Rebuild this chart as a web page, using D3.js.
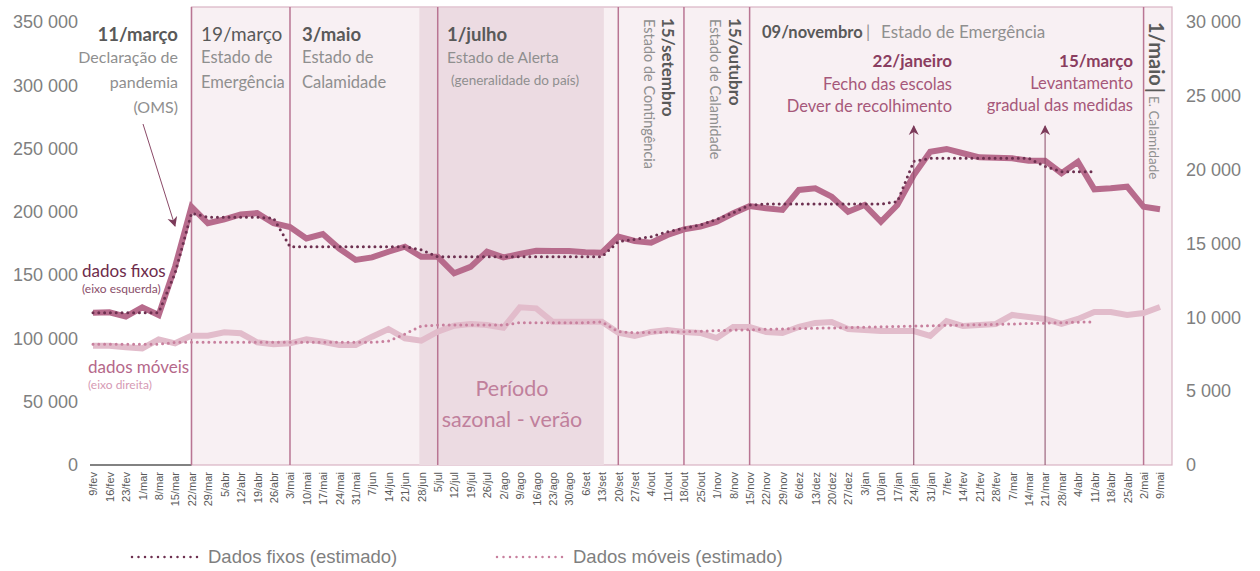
<!DOCTYPE html>
<html>
<head>
<meta charset="utf-8">
<script src="https://cdn.jsdelivr.net/npm/d3@7"></script>
<style>
  body { margin: 0; background: #fff; }
  svg text { font-family: "Liberation Sans", Arial, sans-serif; }
  .note { font-family: Lato, "Open Sans", sans-serif; }
</style>
</head>
<body>
<div id="chart"></div>
<script>
// svg area
var svgWidth = 1260;
var svgHeight = 571;

// weekly labels (9/fev/2020 .. 9/mai/2021)
var semanas = ["9/fev","16/fev","23/fev","1/mar","8/mar","15/mar","22/mar","29/mar","5/abr","12/abr",
  "19/abr","26/abr","3/mai","10/mai","17/mai","24/mai","31/mai","7/jun","14/jun","21/jun",
  "28/jun","5/jul","12/jul","19/jul","26/jul","2/ago","9/ago","16/ago","23/ago","30/ago",
  "6/set","13/set","20/set","27/set","4/out","11/out","18/out","25/out","1/nov","8/nov",
  "15/nov","22/nov","29/nov","6/dez","13/dez","20/dez","27/dez","3/jan","10/jan","17/jan",
  "24/jan","31/jan","7/fev","14/fev","21/fev","28/fev","7/mar","14/mar","21/mar","28/mar",
  "4/abr","11/abr","18/abr","25/abr","2/mai","9/mai"];

// dados fixos (eixo esquerdo)
var dadosFixos = [120300,120600,117200,124600,118500,156700,204000,191000,194000,198000,
  199000,191000,188000,179000,182500,171000,162000,164000,168500,172500,
  164500,164500,151500,156500,168500,164000,166700,169300,169000,169000,
  168000,167700,180400,177000,175600,181700,186200,188300,192200,198900,
  204600,202800,201500,217300,218600,212000,200100,205400,192200,205400,
  229000,247500,249700,246300,243100,242800,242300,240400,240400,230500,
  239600,217800,218600,219900,204000,202000];

// dados fixos estimados (termina em 11/abr)
var fixosEstimado = [120300,120300,120300,120300,120300,151700,199000,195700,195700,195700,
  195700,195000,172500,172500,172500,172500,172500,172500,172500,172500,
  170000,164500,164500,164500,164500,164500,164500,164500,164500,164500,
  164500,164500,176400,178300,180400,184300,187000,189600,194100,199300,
  205400,206200,206200,206200,206200,206200,206200,206200,206200,208000,
  240000,242300,242300,242300,242300,242300,242300,242300,236000,231700,
  231700,231700];

// dados móveis (eixo direito)
var dadosMoveis = [8080,8080,7970,7900,8510,8240,8760,8760,8990,8920,
  8310,8170,8240,8510,8350,8130,8130,8690,9210,8580,
  8420,9030,9430,9550,9480,9300,10680,10610,9700,9700,
  9700,9700,8960,8740,9010,9140,9010,8940,8600,9350,
  9350,9010,8940,9350,9620,9680,9210,9140,9070,9070,
  9070,8740,9750,9410,9480,9550,10160,10020,9890,9550,
  9890,10360,10360,10160,10290,10700];

// dados móveis estimados (termina em 11/abr)
var moveisEstimado = [8170,8170,8170,8170,8170,8310,8310,8310,8310,8310,
  8310,8310,8310,8310,8310,8310,8310,8310,8400,8870,
  9410,9480,9480,9480,9480,9480,9640,9640,9640,9640,
  9640,9700,9030,8960,8980,9000,9030,9060,9100,9130,
  9160,9190,9210,9240,9260,9280,9310,9330,9360,9380,
  9410,9430,9460,9480,9500,9530,9550,9580,9610,9640,
  9670,9700];

var ticksEsquerda = [0,50000,100000,150000,200000,250000,300000,350000];
var ticksDireita = [0,5000,10000,15000,20000,25000,30000];

// period boundaries (week labels)
var marcosPeriodo = ["22/mar","3/mai","5/jul","20/set","18/out","15/nov","2/mai"];
var veraoInicio = "28/jun";
var veraoFim = "13/set";

var fmt = function(d) { return d3.format(",")(d).replace(/,/g, " "); };

var svg = d3.select("#chart")
    .append("svg")
    .attr("width", svgWidth)
    .attr("height", svgHeight);

// scales
var x = d3.scalePoint()
    .domain(semanas)
    .range([93, 1160]);

var yLeft = d3.scaleLinear()
    .domain([0, 350000])
    .range([465, 22]);

var yRight = d3.scaleLinear()
    .domain([0, 30000])
    .range([465, 22]);

// shaded periods
svg.append("rect")
    .attr("x", x("22/mar"))
    .attr("y", 7)
    .attr("width", 1172 - x("22/mar"))
    .attr("height", 465 - 7)
    .attr("fill", "#f8f0f3")
    .attr("stroke", "#d9b3c3")
    .attr("stroke-width", 1.2);

svg.append("rect")
    .attr("x", x(veraoInicio) - 2)
    .attr("y", 8)
    .attr("width", x(veraoFim) - x(veraoInicio) + 4)
    .attr("height", 465 - 8)
    .attr("fill", "#ecdbe2");

// bottom axis line
svg.append("line")
    .attr("x1", 90).attr("x2", x("22/mar"))
    .attr("y1", 465).attr("y2", 465)
    .attr("stroke", "#595959")
    .attr("stroke-width", 1.5);

svg.selectAll(".marco")
    .data(marcosPeriodo)
    .enter()
    .append("line")
    .attr("class", "marco")
    .attr("x1", d => x(d)).attr("x2", d => x(d))
    .attr("y1", 7).attr("y2", 465)
    .attr("stroke", "#b97593")
    .attr("stroke-width", 1.5);

// axes
var bottomAxis = d3.axisBottom(x).tickSize(0).tickPadding(0);
var gx = svg.append("g")
    .attr("transform", "translate(0, 465)")
    .call(bottomAxis);
gx.select(".domain").remove();
gx.selectAll("text")
    .attr("transform", "rotate(-90)")
    .attr("x", -7)
    .attr("y", 0)
    .attr("dy", "0.35em")
    .attr("text-anchor", "end")
    .attr("font-size", 11)
    .attr("font-family", "Liberation Sans, Arial, sans-serif")
    .attr("fill", "#595959");

var leftAxis = d3.axisLeft(yLeft).tickValues(ticksEsquerda).tickFormat(fmt).tickSize(0).tickPadding(0);
var gl = svg.append("g")
    .attr("transform", "translate(78, 0)")
    .call(leftAxis);
gl.select(".domain").remove();
gl.selectAll("text")
    .attr("font-size", 18)
    .attr("font-family", "Liberation Sans, Arial, sans-serif")
    .attr("fill", "#7f7f7f");

var rightAxis = d3.axisRight(yRight).tickValues(ticksDireita).tickFormat(fmt).tickSize(0).tickPadding(0);
var gr = svg.append("g")
    .attr("transform", "translate(1186, 0)")
    .call(rightAxis);
gr.select(".domain").remove();
gr.selectAll("text")
    .attr("font-size", 18)
    .attr("font-family", "Liberation Sans, Arial, sans-serif")
    .attr("fill", "#7f7f7f");

// lines
var lineLeft = d3.line().x((d, i) => x(semanas[i])).y(d => yLeft(d));
var lineRight = d3.line().x((d, i) => x(semanas[i])).y(d => yRight(d));

svg.append("path")
    .datum(dadosMoveis)
    .attr("d", lineRight)
    .attr("fill", "none")
    .attr("stroke", "#e2bccb")
    .attr("stroke-width", 6);

svg.append("path")
    .datum(dadosFixos)
    .attr("d", lineLeft)
    .attr("fill", "none")
    .attr("stroke", "#b76b8c")
    .attr("stroke-width", 6);

svg.append("path")
    .datum(moveisEstimado)
    .attr("d", lineRight)
    .attr("fill", "none")
    .attr("stroke", "#c8809e")
    .attr("stroke-width", 3)
    .attr("stroke-linecap", "round")
    .attr("stroke-dasharray", "0 5.8");

svg.append("path")
    .datum(fixosEstimado)
    .attr("d", lineLeft)
    .attr("fill", "none")
    .attr("stroke", "#6d3050")
    .attr("stroke-width", 3)
    .attr("stroke-linecap", "round")
    .attr("stroke-dasharray", "0 5.8");

// arrows
var defs = svg.append("defs");
defs.append("marker")
    .attr("id", "seta")
    .attr("viewBox", "0 0 10 10")
    .attr("refX", 9).attr("refY", 5)
    .attr("markerWidth", 10).attr("markerHeight", 12)
    .attr("markerUnits", "userSpaceOnUse")
    .attr("orient", "auto")
    .append("path")
    .attr("d", "M0,0 L10,5 L0,10 L3,5 Z")
    .attr("fill", "#7b3a59");

svg.append("line")
    .attr("x1", 143).attr("y1", 124)
    .attr("x2", 175).attr("y2", 226)
    .attr("stroke", "#8b4a68").attr("stroke-width", 1)
    .attr("marker-end", "url(#seta)");

["24/jan", "21/mar"].forEach(function(s) {
    svg.append("line")
        .attr("x1", x(s)).attr("x2", x(s))
        .attr("y1", 465).attr("y2", 126)
        .attr("stroke", "#8b4a68").attr("stroke-width", 1)
        .attr("marker-end", "url(#seta)");
});

// annotations
function bloco(xx, yy, linhas, anchor) {
    var t = svg.append("text")
        .attr("class", "note")
        .attr("text-anchor", anchor || "start");
    linhas.forEach(function(l) {
        t.append("tspan")
            .attr("x", xx)
            .attr("y", yy + l.dy)
            .attr("font-size", l.size)
            .attr("font-weight", l.bold ? 700 : 400)
            .attr("fill", l.color)
            .text(l.text);
    });
}

var cinzaEsc = "#595959", cinza = "#8f8f8f";

bloco(178, 41, [
    {text: "11/março", dy: 0, size: 18.5, bold: true, color: cinzaEsc},
    {text: "Declaração de", dy: 22, size: 16, color: cinza},
    {text: "pandemia", dy: 47, size: 16, color: cinza},
    {text: "(OMS)", dy: 72, size: 16, color: cinza}
], "end");

bloco(201, 41, [
    {text: "19/março", dy: 0, size: 19, bold: false, color: cinzaEsc},
    {text: "Estado de", dy: 22, size: 16.5, color: cinza},
    {text: "Emergência", dy: 47, size: 16.5, color: cinza}
]);

bloco(302, 41, [
    {text: "3/maio", dy: 0, size: 18.5, bold: true, color: cinzaEsc},
    {text: "Estado de", dy: 22, size: 16.5, color: cinza},
    {text: "Calamidade", dy: 47, size: 16.5, color: cinza}
]);

bloco(447, 41, [
    {text: "1/julho", dy: 0, size: 18.5, bold: true, color: cinzaEsc},
    {text: "Estado de Alerta", dy: 22, size: 15.5, color: cinza}
]);
bloco(451, 85, [
    {text: "(generalidade do país)", dy: 0, size: 13.5, color: cinza}
]);

// rotated period notes
function vertical(xx, yy, partes) {
    var t = svg.append("text")
        .attr("class", "note")
        .attr("transform", "translate(" + xx + "," + yy + ") rotate(90)");
    partes.forEach(function(p) {
        t.append("tspan")
            .attr("dx", p.dx || 0)
            .attr("font-size", p.size)
            .attr("font-weight", p.bold ? 700 : 400)
            .attr("fill", p.color)
            .text(p.text);
    });
}

vertical(662, 18, [{text: "15/setembro", size: 17, bold: true, color: cinzaEsc}]);
vertical(644, 19, [{text: "Estado de Contingência", size: 14.5, color: cinza}]);
vertical(729, 18, [{text: "15/outubro", size: 17, bold: true, color: cinzaEsc}]);
vertical(710, 19, [{text: "Estado de Calamidade", size: 14.5, color: cinza}]);
vertical(1149, 22, [
    {text: "1/maio", size: 20, bold: true, color: cinzaEsc},
    {text: "|", dx: 2, size: 20, bold: true, color: cinzaEsc},
    {text: "E. Calamidade", dx: 3, size: 13.5, color: cinza}
]);

var t9 = svg.append("text")
    .attr("class", "note")
    .attr("y", 38);
t9.append("tspan").attr("x", 762).attr("font-size", 16.5).attr("font-weight", 700).attr("fill", cinzaEsc).text("09/novembro");
t9.append("tspan").attr("x", 866).attr("font-size", 16.5).attr("fill", cinza).text("|");
t9.append("tspan").attr("x", 881).attr("font-size", 17).attr("fill", cinza).text("Estado de Emergência");

bloco(952, 67, [
    {text: "22/janeiro", dy: 0, size: 17, bold: true, color: "#8a3d5f"},
    {text: "Fecho das escolas", dy: 23, size: 16.5, color: "#a6587a"},
    {text: "Dever de recolhimento", dy: 45, size: 16.5, color: "#a6587a"}
], "end");

bloco(1133, 67, [
    {text: "15/março", dy: 0, size: 17, bold: true, color: "#8a3d5f"},
    {text: "Levantamento", dy: 22, size: 16.5, color: "#a6587a"},
    {text: "gradual das medidas", dy: 44, size: 16.5, color: "#a6587a"}
], "end");

// series labels
bloco(82, 277, [
    {text: "dados fixos", dy: 0, size: 17, color: "#6e2c4b"},
    {text: "(eixo esquerda)", dy: 16, size: 12, color: "#8a4f6a"}
]);
bloco(88, 373, [
    {text: "dados móveis", dy: 0, size: 17, color: "#b5688a"},
    {text: "(eixo direita)", dy: 16, size: 12, color: "#d69ab4"}
]);

bloco(512, 396, [
    {text: "Período", dy: 0, size: 21.5, color: "#c0809c"},
    {text: "sazonal - verão", dy: 31, size: 21.5, color: "#c0809c"}
], "middle");

// legend
var legenda = [
    {nome: "Dados fixos (estimado)", cor: "#6d3050", x0: 132},
    {nome: "Dados móveis (estimado)", cor: "#c8809e", x0: 497}
];
legenda.forEach(function(l) {
    svg.append("line")
        .attr("x1", l.x0).attr("x2", l.x0 + 66)
        .attr("y1", 557).attr("y2", 557)
        .attr("stroke", l.cor)
        .attr("stroke-width", 2.5)
        .attr("stroke-linecap", "round")
        .attr("stroke-dasharray", "0 6.5");
    svg.append("text")
        .attr("x", l.x0 + 76)
        .attr("y", 563)
        .attr("font-size", 18.5)
        .attr("fill", "#7f7f7f")
        .text(l.nome);
});
</script>
</body>
</html>
